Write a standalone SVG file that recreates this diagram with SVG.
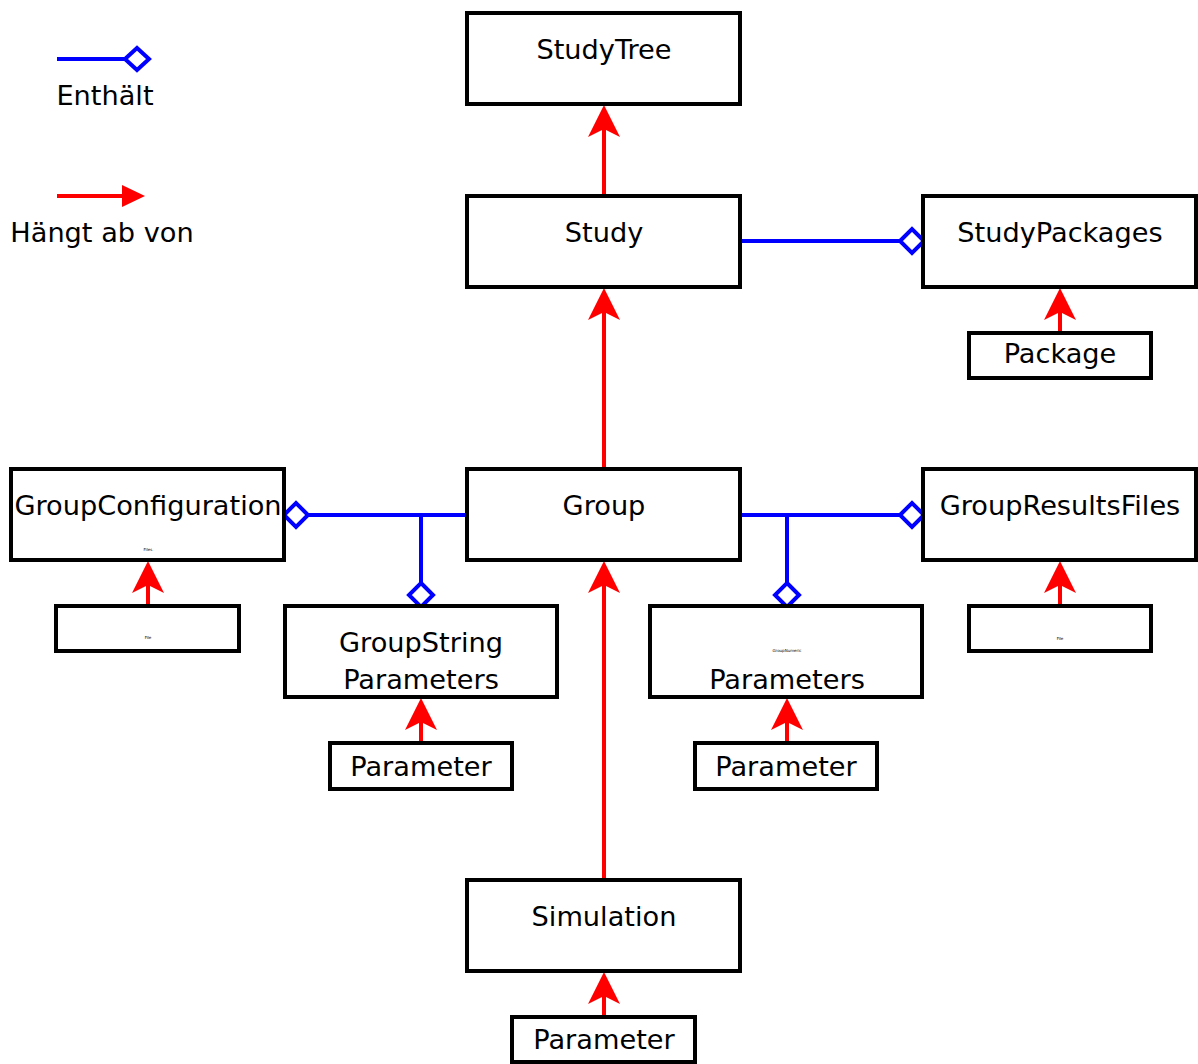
<svg xmlns="http://www.w3.org/2000/svg" width="1198" height="1064" viewBox="0 0 1198 1064">
<defs>
<style>
.box{fill:#fff;stroke:#000;stroke-width:4}
.t{font-family:"DejaVu Sans",sans-serif;font-size:27.2px;fill:#000;text-anchor:middle}
.tiny{font-family:"DejaVu Sans",sans-serif;font-size:4px;fill:#000;text-anchor:middle}
.dep{stroke:#ff0000;stroke-width:4;fill:none}
.con{stroke:#0000ff;stroke-width:4;fill:none}
.dia{stroke:#0000ff;stroke-width:4;fill:#fff}
.ah{fill:#ff0000;stroke:none}
</style>
</defs>
<rect width="1198" height="1064" fill="#fff"/>
<g id="legend">
<line class="con" x1="57" y1="59" x2="125" y2="59"/>
<path class="dia" d="M125,59 L137,48 L149,59 L137,70 Z"/>
<text class="t" x="105" y="105">Enthält</text>
<line class="dep" x1="57" y1="196" x2="124" y2="196"/>
<path class="ah" d="M122,185 L145,196 L122,207 Z"/>
<text class="t" x="102" y="242">Hängt ab von</text>
</g>
<g id="connectors">
<line class="dep" x1="604" y1="196" x2="604" y2="125"/>
<path class="ah" d="M604,105 L620,137 L604,129 L588,137 Z"/>
<line class="dep" x1="604" y1="469" x2="604" y2="308"/>
<path class="ah" d="M604,288 L620,320 L604,312 L588,320 Z"/>
<line class="dep" x1="1060" y1="333" x2="1060" y2="308"/>
<path class="ah" d="M1060,288 L1076,320 L1060,312 L1044,320 Z"/>
<line class="dep" x1="148" y1="606" x2="148" y2="581"/>
<path class="ah" d="M148,561 L164,593 L148,585 L132,593 Z"/>
<line class="dep" x1="1060" y1="606" x2="1060" y2="581"/>
<path class="ah" d="M1060,561 L1076,593 L1060,585 L1044,593 Z"/>
<line class="dep" x1="604" y1="880" x2="604" y2="581"/>
<path class="ah" d="M604,561 L620,593 L604,585 L588,593 Z"/>
<line class="dep" x1="421" y1="743" x2="421" y2="718"/>
<path class="ah" d="M421,698 L437,730 L421,722 L405,730 Z"/>
<line class="dep" x1="787" y1="743" x2="787" y2="718"/>
<path class="ah" d="M787,698 L803,730 L787,722 L771,730 Z"/>
<line class="dep" x1="604" y1="1017" x2="604" y2="992"/>
<path class="ah" d="M604,972 L620,1004 L604,996 L588,1004 Z"/>
<line class="con" x1="740" y1="241" x2="900" y2="241"/>
<path class="dia" d="M900,241 L912,229 L924,241 L912,253 Z"/>
<line class="con" x1="467" y1="515" x2="308" y2="515"/>
<path class="dia" d="M284,515 L296,503 L308,515 L296,527 Z"/>
<line class="con" x1="421" y1="515" x2="421" y2="583"/>
<path class="dia" d="M421,583 L433,595 L421,607 L409,595 Z"/>
<line class="con" x1="740" y1="515" x2="900" y2="515"/>
<path class="dia" d="M900,515 L912,503 L924,515 L912,527 Z"/>
<line class="con" x1="787" y1="515" x2="787" y2="583"/>
<path class="dia" d="M787,583 L799,595 L787,607 L775,595 Z"/>
</g>
<g id="StudyTree"><rect class="box" x="467" y="13" width="273" height="91"/><text class="t" x="604" y="59">StudyTree</text></g>
<g id="Study"><rect class="box" x="467" y="196" width="273" height="91"/><text class="t" x="604" y="242">Study</text></g>
<g id="StudyPackages"><rect class="box" x="923" y="196" width="273" height="91"/><text class="t" x="1060" y="242">StudyPackages</text></g>
<g id="Package"><rect class="box" x="969" y="333" width="182" height="45"/><text class="t" x="1060" y="363">Package</text></g>
<g id="GroupConfiguration"><rect class="box" x="11" y="469" width="273" height="91"/><text class="t" x="148" y="515">GroupConfiguration</text><text class="tiny" x="148" y="551">Files</text></g>
<g id="Group"><rect class="box" x="467" y="469" width="273" height="91"/><text class="t" x="604" y="515">Group</text></g>
<g id="GroupResultsFiles"><rect class="box" x="923" y="469" width="273" height="91"/><text class="t" x="1060" y="515">GroupResultsFiles</text></g>
<g id="FileLeft"><rect class="box" x="56" y="606" width="183" height="45"/><text class="tiny" x="148" y="639">File</text></g>
<g id="GroupStringParameters"><rect class="box" x="285" y="606" width="272" height="91"/><text class="t" x="421" y="652">GroupString</text><text class="t" x="421" y="689">Parameters</text></g>
<g id="GroupNumericParameters"><rect class="box" x="650" y="606" width="272" height="91"/><text class="tiny" x="787" y="652">GroupNumeric</text><text class="t" x="787" y="689">Parameters</text></g>
<g id="FileRight"><rect class="box" x="969" y="606" width="182" height="45"/><text class="tiny" x="1060" y="640">File</text></g>
<g id="ParameterString"><rect class="box" x="330" y="743" width="182" height="46"/><text class="t" x="421" y="776">Parameter</text></g>
<g id="ParameterNumeric"><rect class="box" x="695" y="743" width="182" height="46"/><text class="t" x="786" y="776">Parameter</text></g>
<g id="Simulation"><rect class="box" x="467" y="880" width="273" height="91"/><text class="t" x="604" y="926">Simulation</text></g>
<g id="ParameterSimulation"><rect class="box" x="512" y="1017" width="183" height="45"/><text class="t" x="604" y="1049">Parameter</text></g>
</svg>
